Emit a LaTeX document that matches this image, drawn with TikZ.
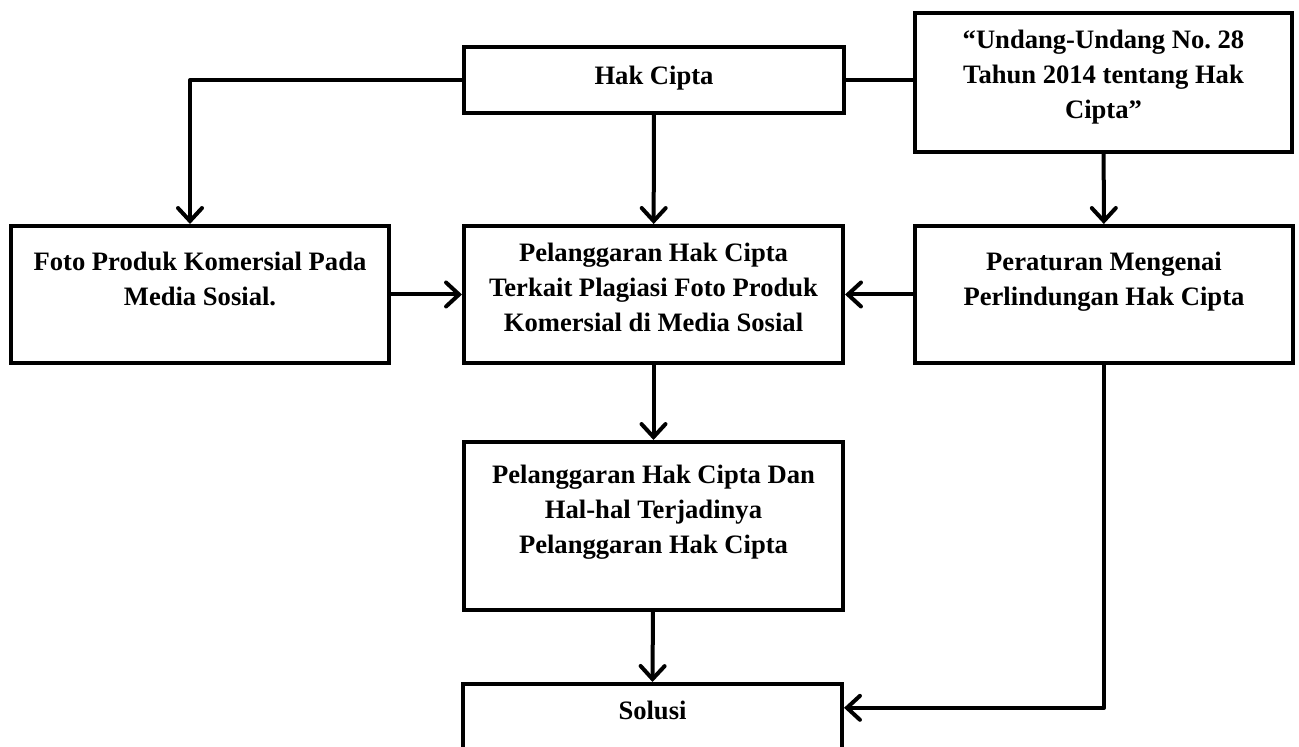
\documentclass[tikz,border=0pt]{standalone}
\usepackage{fontspec}
\setmainfont{Liberation Serif}
\usetikzlibrary{positioning,arrows.meta}
\newcommand{\tinggi}{\rule{0pt}{12.25pt}}
\tikzstyle{Kotak} = [draw, line width=2pt, inner sep=0pt]
\tikzstyle{Teks} = [font=\fontsize{13.3}{17.5}\selectfont\bfseries, align=center, inner sep=0pt]
\tikzstyle{Garis} = [line width=2pt, line join=round]
\tikzstyle{Panah} = [Garis, -{Straight Barb[length=6.5pt,width=12pt,line cap=round]}]

\begin{document}
\begin{tikzpicture}[x=0.5pt,y=-0.5pt]
\useasboundingbox (0,0) rectangle (1299,747);
\clip (0,0) rectangle (1299,747);

% kotak
\node[Kotak, minimum width=190pt, minimum height=33pt] (hak) at (654,80) {};
\node[Kotak, minimum width=188.5pt, minimum height=69.5pt] (uu) at (1103.5,82.5) {};
\node[Kotak, minimum width=189pt, minimum height=68.5pt] (foto) at (200,294.5) {};
\node[Kotak, minimum width=189.5pt, minimum height=68.5pt] (tengah) at (653.5,294.5) {};
\node[Kotak, minimum width=189pt, minimum height=68.5pt] (atur) at (1104,294.5) {};
\node[Kotak, minimum width=189.5pt, minimum height=84pt] (langgar) at (653.5,526) {};
\node[Kotak, minimum width=189.5pt, minimum height=50pt] (solusi) at (652.5,734) {};

% teks
\node[Teks, below=7.5pt of hak.north] (hakT) {\tinggi Hak Cipta};
\node[Teks, below=6.25pt of uu.north] (uuT) {\tinggi“Undang-Undang No.\ 28\\Tahun 2014 tentang Hak\\Cipta”};
\node[Teks, below=10.75pt of foto.north] (fotoT) {\tinggi Foto Produk Komersial Pada\\Media Sosial.};
\node[Teks, below=6.25pt of tengah.north] (tengahT) {\tinggi Pelanggaran Hak Cipta\\Terkait Plagiasi Foto Produk\\Komersial di Media Sosial};
\node[Teks, below=10.75pt of atur.north] (aturT) {\tinggi Peraturan Mengenai\\Perlindungan Hak Cipta};
\node[Teks, below=9.25pt of langgar.north] (langgarT) {\tinggi Pelanggaran Hak Cipta Dan\\Hal-hal Terjadinya\\Pelanggaran Hak Cipta};
\node[Teks, below=6.5pt of solusi.north] (solusiT) {\tinggi Solusi};

% garis
\draw[Panah] (hak.west) -| ([xshift=-5pt]foto.north);
\draw[Garis] (hak.east) -- (hak.east -| uu.west);
\draw[Panah] (hak) -- (tengah);
\draw[Panah] (uu) -- (atur);
\draw[Panah] (foto) -- (tengah);
\draw[Panah] (atur) -- (tengah);
\draw[Panah] (tengah) -- (langgar);
\draw[Panah] (langgar) -- (solusi.north);
\draw[Panah] (atur.south) |- (solusiT.east -| solusi.east);

\end{tikzpicture}
\end{document}
